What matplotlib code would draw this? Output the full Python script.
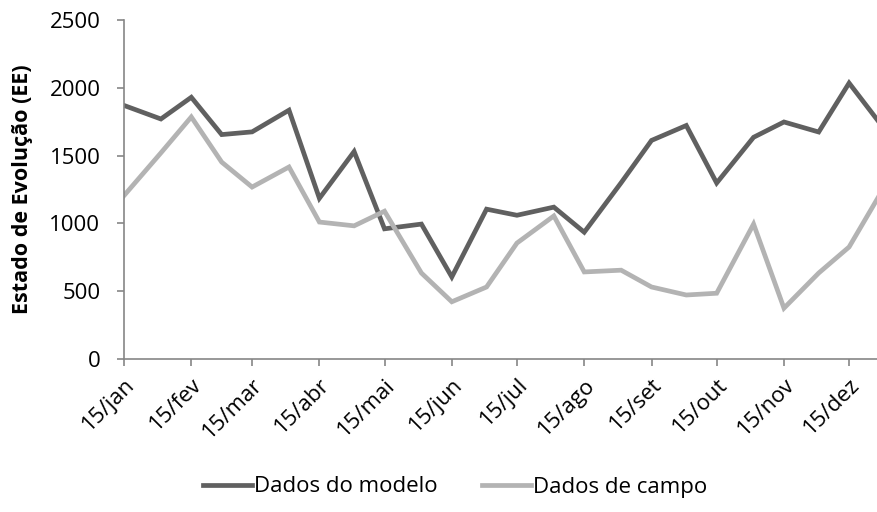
import pandas as pd
import matplotlib.pyplot as plt

plt.rcParams['font.family'] = ['Open Sans', 'DejaVu Sans']

# Datas das amostragens (quinzenais)
datas = ["2013-01-15", "2013-02-01", "2013-02-15", "2013-03-01", "2013-03-15",
         "2013-04-01", "2013-04-15", "2013-05-01", "2013-05-15", "2013-06-01",
         "2013-06-15", "2013-07-01", "2013-07-15", "2013-08-01", "2013-08-15",
         "2013-09-01", "2013-09-15", "2013-10-01", "2013-10-15", "2013-11-01",
         "2013-11-15", "2013-12-01", "2013-12-15", "2014-01-01"]

modelo = [1870, 1770, 1930, 1655, 1675, 1835, 1185, 1530, 960, 995,
          605, 1105, 1060, 1120, 935, 1300, 1612, 1722, 1298, 1635,
          1748, 1674, 2035, 1680]

campo = [1205, 1520, 1785, 1452, 1268, 1416, 1010, 982, 1090, 634,
         422, 531, 855, 1055, 642, 655, 531, 472, 485, 995,
         375, 634, 826, 1290]

meses = ["jan", "fev", "mar", "abr", "mai", "jun", "jul", "ago", "set", "out", "nov", "dez"]

x = pd.to_datetime(datas)
ticks = pd.to_datetime([f"2013-{m:02d}-15" for m in range(1, 13)])
rotulos = [f"15/{m}" for m in meses]

fig = plt.figure(figsize=(8.77, 5.12), dpi=100)
ax = fig.add_axes([124 / 877, 1 - 359 / 512, (886 - 124) / 877, 339 / 512])

ax.plot(x, modelo, color="#606060", lw=3.4, label="Dados do modelo", solid_joinstyle="miter")
ax.plot(x, campo, color="#b3b3b3", lw=3.4, label="Dados de campo", solid_joinstyle="miter")

ax.set_xlim(x[0], x[-1])
ax.set_ylim(0, 2500)
ax.set_yticks(range(0, 2501, 500))
ax.set_xticks(ticks)
ax.set_xticklabels(rotulos, rotation=45, ha="right", rotation_mode="anchor")

for s in ["top", "right"]:
    ax.spines[s].set_visible(False)
for s in ["left", "bottom"]:
    ax.spines[s].set_color("#868686")
    ax.spines[s].set_linewidth(1.2)
ax.tick_params(axis="both", colors="#868686", length=5, width=1.2, labelsize=16, labelcolor="black")
ax.tick_params(axis="y", pad=12)
ax.tick_params(axis="x", pad=6)

ax.set_ylabel("Estado de Evolução (EE)", fontsize=15.5, fontweight="bold", labelpad=12)

fig.legend(loc="center", bbox_to_anchor=(455 / 877, 1 - 487 / 512), ncol=2, frameon=False,
           fontsize=16, handlelength=2.2, handletextpad=0.1, columnspacing=2.0)

fig.savefig("out.png", dpi=100)
